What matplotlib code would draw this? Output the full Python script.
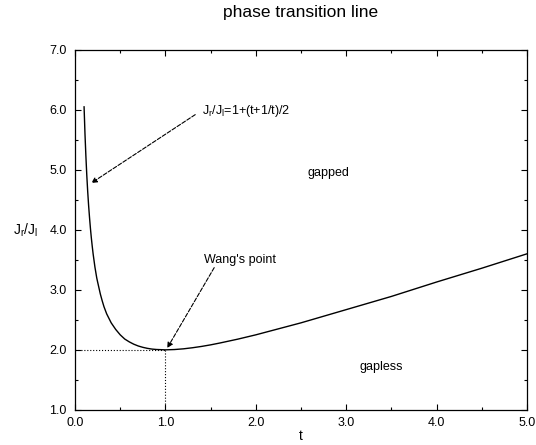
import matplotlib
matplotlib.use("Agg")
import matplotlib.pyplot as plt
from matplotlib.ticker import MultipleLocator, FormatStrFormatter

plt.rcParams['font.family'] = ['Liberation Sans', 'DejaVu Sans']
plt.rcParams['mathtext.default'] = 'regular'

# phase boundary
t = [0.10, 0.11, 0.12, 0.13, 0.14, 0.15, 0.16, 0.17, 0.18, 0.19, 0.20,
     0.22, 0.24, 0.25, 0.28, 0.30, 0.32, 0.35, 0.40, 0.45, 0.50, 0.55,
     0.60, 0.65, 0.70, 0.75, 0.80, 0.85, 0.90, 1.00, 1.10, 1.20, 1.30,
     1.40, 1.50, 1.60, 1.80, 2.00, 2.20, 2.50, 3.00, 3.50, 4.00, 4.50,
     5.00]
ratio = [6.05, 5.60, 5.23, 4.91, 4.64, 4.41, 4.21, 4.03, 3.87, 3.73, 3.60,
         3.38, 3.20, 3.13, 2.93, 2.82, 2.72, 2.60, 2.45, 2.34, 2.25, 2.18,
         2.133, 2.094, 2.064, 2.042, 2.025, 2.013, 2.006, 2.000, 2.005,
         2.017, 2.035, 2.057, 2.083, 2.113, 2.178, 2.25, 2.33, 2.45, 2.67,
         2.89, 3.13, 3.36, 3.60]

wang_t, wang_j = 1.0, 2.0

fig = plt.figure(figsize=(5.36, 4.45), dpi=100)
ax = fig.add_axes([0.140, 0.079, 0.843, 0.809])

ax.plot(t, ratio, color='k', lw=1.0)
ax.plot([0, wang_t], [wang_j, wang_j], color='k', ls=':', lw=0.8)
ax.plot([wang_t, wang_t], [1, wang_j], color='k', ls=':', lw=0.8)

ax.set_xlim(0, 5)
ax.set_ylim(1, 7)
ax.xaxis.set_major_locator(MultipleLocator(1))
ax.xaxis.set_minor_locator(MultipleLocator(0.5))
ax.yaxis.set_major_locator(MultipleLocator(1))
ax.yaxis.set_minor_locator(MultipleLocator(0.5))
ax.xaxis.set_major_formatter(FormatStrFormatter('%.1f'))
ax.yaxis.set_major_formatter(FormatStrFormatter('%.1f'))
ax.tick_params(which='both', direction='in', top=True, right=True, labelsize=9)
ax.tick_params(which='major', length=4, width=0.8)
ax.tick_params(which='minor', length=2.5, width=0.8)
ax.tick_params(axis='y', pad=6)
ax.tick_params(axis='x', pad=5)
for s in ax.spines.values():
    s.set_linewidth(0.9)

ax.set_title('phase transition line', fontsize=12.5, pad=24)
ax.set_xlabel('t', fontsize=10, labelpad=0)
ax.set_ylabel('J$_r$/J$_l$', fontsize=10, rotation=0, labelpad=17, va='center')

arrow = dict(arrowstyle='-|>', color='k', lw=0.8, ls='--', mutation_scale=8,
             shrinkA=0, shrinkB=0)
ax.annotate('', xy=(0.18, 4.78), xytext=(1.33, 5.92), arrowprops=arrow)
ax.text(1.40, 5.98, 'J$_r$/J$_l$=1+(t+1/t)/2', fontsize=9, va='center', ha='left')
ax.annotate('', xy=(1.02, 2.03), xytext=(1.54, 3.37), arrowprops=arrow)
ax.text(1.83, 3.50, "Wang's point", fontsize=9, va='center', ha='center')
ax.text(2.80, 4.95, 'gapped', fontsize=9, va='center', ha='center')
ax.text(3.39, 1.72, 'gapless', fontsize=9, va='center', ha='center')

fig.savefig('out.png', dpi=100)
